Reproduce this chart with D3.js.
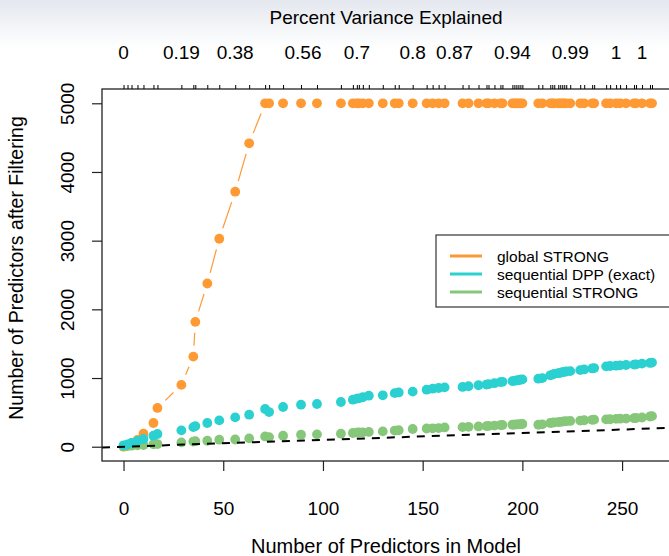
<!DOCTYPE html>
<html>
<head>
<meta charset="utf-8">
<script src="https://cdn.jsdelivr.net/npm/d3@7"></script>
<style>
  body { margin: 0; background: #fff; }
  svg text { font-family: "Liberation Sans", Arial, sans-serif; fill: #000; }
</style>
</head>
<body>
<div id="chart"></div>
<script>
// model sizes along the path (x), one per lambda step
const predictors = [0, 2, 4, 7, 10, 15, 17, 29, 35, 36, 42, 48, 56, 63, 71, 73, 80, 89, 97,
  109, 115, 117, 118, 120, 123, 130, 136, 138, 145, 152, 155, 158, 161, 170, 173, 178, 182,
  183, 186, 189, 190, 195, 196, 197, 198, 199, 200, 208, 210, 214, 215, 216, 218, 219, 220,
  221, 222, 224, 229, 231, 235, 236, 242, 244, 247, 249, 252, 256, 257, 260, 264, 265];

const globalStrong = [0, 20, 50, 100, 190, 345, 564, 900, 1312, 1818, 2376, 3028, 3713, 4417,
  5000, 5000, 5000, 5000, 5000, 5000, 5000, 5000, 5000, 5000, 5000, 5000, 5000, 5000, 5000,
  5000, 5000, 5000, 5000, 5000, 5000, 5000, 5000, 5000, 5000, 5000, 5000, 5000, 5000, 5000,
  5000, 5000, 5000, 5000, 5000, 5000, 5000, 5000, 5000, 5000, 5000, 5000, 5000, 5000, 5000,
  5000, 5000, 5000, 5000, 5000, 5000, 5000, 5000, 5000, 5000, 5000, 5000, 5000];

const seqDPP = [20, 35, 55, 85, 112, 160, 185, 238, 285, 300, 345, 383, 427, 466, 549, 505, 578,
  612, 622, 651, 685, 700, 705, 720, 743, 748, 780, 790, 802, 830, 845, 855, 864, 870, 880, 895,
  905, 910, 925, 940, 945, 955, 960, 965, 970, 975, 980, 990, 1000, 1040, 1050, 1060, 1070, 1075,
  1085, 1090, 1095, 1100, 1115, 1125, 1140, 1145, 1170, 1175, 1180, 1185, 1190, 1195, 1200,
  1210, 1220, 1225];

const seqStrong = [5, 10, 15, 20, 25, 35, 39, 63, 75, 80, 87, 102, 105, 121, 150, 140, 160, 175,
  180, 190, 200, 205, 207, 210, 215, 223, 235, 240, 258, 265, 268, 272, 281, 285, 290, 295, 300,
  302, 308, 314, 316, 320, 322, 324, 326, 328, 331, 320, 325, 345, 350, 355, 358, 362, 366, 369,
  372, 375, 380, 385, 392, 394, 398, 400, 405, 408, 410, 415, 418, 425, 440, 445];

const xTicks = [0, 50, 100, 150, 200, 250];
const yTicks = [0, 1000, 2000, 3000, 4000, 5000];
const topLabels = ["0", "0.19", "0.38", "0.56", "0.7", "0.8", "0.87", "0.94", "0.99", "1", "1"];
const topLabelAt = [0, 29, 56, 90, 117, 145, 166, 195, 224, 247, 260];

const legendNames = ["global STRONG", "sequential DPP (exact)", "sequential STRONG"];
const colors = ["#FF9933", "#2BD0D0", "#86C77A"];

const width = 669, height = 556;
const svg = d3.select("#chart").append("svg").attr("width", width).attr("height", height);

// light band at the top of the picture
const defs = svg.append("defs");
const grad = defs.append("linearGradient").attr("id", "topband")
  .attr("x1", 0).attr("y1", 0).attr("x2", 0).attr("y2", 1);
grad.append("stop").attr("offset", "0%").attr("stop-color", "#e4e7ee");
grad.append("stop").attr("offset", "100%").attr("stop-color", "#ffffff");
svg.append("rect").attr("x", 0).attr("y", 0).attr("width", width).attr("height", 48)
  .attr("fill", "url(#topband)");

const plot = { left: 102, top: 89, right: 683.5, bottom: 461 };
const x = d3.scaleLinear().domain([-10.8, 280.8]).range([plot.left, plot.right]);
const y = d3.scaleLinear().domain([-208, 5208]).range([plot.bottom, plot.top]);

defs.append("clipPath").attr("id", "clip").append("rect")
  .attr("x", plot.left).attr("y", plot.top)
  .attr("width", plot.right - plot.left).attr("height", plot.bottom - plot.top);

const g = svg.append("g").attr("clip-path", "url(#clip)");

// global STRONG: points joined by a line that stops short of each point (type = "b")
const gap = 11;
const oPts = predictors.map((p, i) => [x(p), y(globalStrong[i])]);
for (let i = 0; i < oPts.length - 1; i++) {
  const [x0, y0] = oPts[i], [x1, y1] = oPts[i + 1];
  const d = Math.hypot(x1 - x0, y1 - y0);
  if (d <= 2 * gap + 4) continue;
  const ux = (x1 - x0) / d, uy = (y1 - y0) / d;
  g.append("line")
    .attr("x1", x0 + ux * gap).attr("y1", y0 + uy * gap)
    .attr("x2", x1 - ux * gap).attr("y2", y1 - uy * gap)
    .attr("stroke", colors[0]).attr("stroke-width", 1.2);
}

function dots(values, color) {
  g.append("g").selectAll("circle")
    .data(predictors.map((p, i) => [p, values[i]]))
    .enter().append("circle")
    .attr("cx", d => x(d[0])).attr("cy", d => y(d[1]))
    .attr("r", 4.9).attr("fill", color);
}
dots(globalStrong, colors[0]);
dots(seqStrong, colors[2]);
dots(seqDPP, colors[1]);

// reference line y = x
g.append("line")
  .attr("x1", x(-10.8)).attr("y1", y(-10.8))
  .attr("x2", x(280.8)).attr("y2", y(280.8))
  .attr("stroke", "#000").attr("stroke-width", 2)
  .attr("stroke-dasharray", "8,7");

// box
svg.append("rect")
  .attr("x", plot.left).attr("y", plot.top)
  .attr("width", plot.right - plot.left).attr("height", plot.bottom - plot.top)
  .attr("fill", "none").attr("stroke", "#222").attr("stroke-width", 1.3);

// bottom axis
const xAxis = svg.append("g").attr("transform", `translate(0,${plot.bottom})`)
  .call(d3.axisBottom(x).tickValues(xTicks).tickSize(10).tickPadding(31).tickSizeOuter(0));
xAxis.select(".domain").remove();
xAxis.selectAll("line").attr("stroke", "#222").attr("stroke-width", 1.2);
xAxis.selectAll("text").style("font-size", "19px").attr("fill", "#000");

// left axis
const yAxis = svg.append("g").attr("transform", `translate(${plot.left},0)`)
  .call(d3.axisLeft(y).tickValues(yTicks).tickFormat(d3.format("d")).tickSize(10).tickSizeOuter(0));
yAxis.select(".domain").remove();
yAxis.selectAll("line").attr("stroke", "#222").attr("stroke-width", 1.2);
yAxis.selectAll("text")
  .style("font-size", "19px").attr("fill", "#000")
  .attr("text-anchor", "middle")
  .attr("x", 0).attr("dy", 0)
  .attr("transform", "translate(-28,0) rotate(-90)");

// top rug of model sizes and variance labels
const topAxis = svg.append("g").attr("transform", `translate(0,${plot.top})`)
  .call(d3.axisTop(x).tickValues(predictors).tickSize(4).tickFormat("").tickSizeOuter(0));
topAxis.select(".domain").remove();
topAxis.selectAll("line").attr("stroke", "#000").attr("stroke-width", 1);

svg.append("g").selectAll("text")
  .data(topLabels)
  .enter().append("text")
  .attr("x", (d, i) => x(topLabelAt[i]))
  .attr("y", 59)
  .attr("text-anchor", "middle")
  .style("font-size", "19px")
  .text(d => d);

// titles
svg.append("text").attr("x", 386).attr("y", 24).attr("text-anchor", "middle")
  .style("font-size", "19px").text("Percent Variance Explained");
svg.append("text").attr("x", 386).attr("y", 553).attr("text-anchor", "middle")
  .style("font-size", "20px").text("Number of Predictors in Model");
svg.append("text").attr("transform", "translate(23,268) rotate(-90)").attr("text-anchor", "middle")
  .style("font-size", "19.5px").text("Number of Predictors after Filtering");

// legend
const lg = svg.append("g");
lg.append("rect").attr("x", 436).attr("y", 235).attr("width", 260).attr("height", 72)
  .attr("fill", "#fff").attr("stroke", "#333").attr("stroke-width", 1.2);
legendNames.forEach((name, i) => {
  const ly = 256 + i * 18;
  lg.append("line").attr("x1", 450).attr("x2", 482).attr("y1", ly).attr("y2", ly)
    .attr("stroke", colors[i]).attr("stroke-width", 3);
  lg.append("text").attr("x", 497).attr("y", ly + 5.5).style("font-size", "15.5px").text(name);
});
</script>
</body>
</html>
